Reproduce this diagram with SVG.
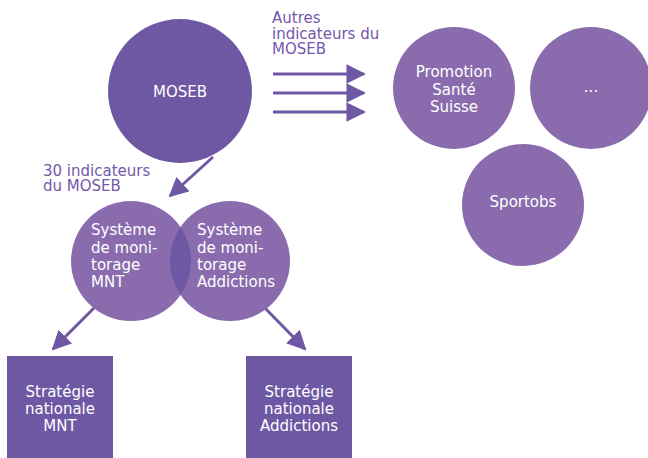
<svg xmlns="http://www.w3.org/2000/svg" width="648" height="458" viewBox="0 0 648 458">
<style>
.dark{fill:#6e58a4}
.light{fill:#8a6cae}
.wt{fill:#ffffff;font-family:"DejaVu Sans","Liberation Sans",Arial,sans-serif;font-size:15px}
.lbl{fill:#7458ac;font-family:"DejaVu Sans","Liberation Sans",Arial,sans-serif;font-size:15px}
.ln{stroke:#6e58a4;stroke-width:3;fill:none}
</style>
<defs>
<marker id="ah" viewBox="0 0 10 10" refX="9" refY="5" markerWidth="6.5" markerHeight="6.5" markerUnits="strokeWidth" orient="auto">
<path d="M0,0 L10,5 L0,10 Z" fill="#6e58a4"/>
</marker>
</defs>
<rect width="648" height="458" fill="#ffffff"/>
<g id="connectors">
<line class="ln" x1="273" y1="74" x2="364" y2="74" marker-end="url(#ah)"/>
<line class="ln" x1="273" y1="93" x2="364" y2="93" marker-end="url(#ah)"/>
<line class="ln" x1="273" y1="112" x2="364" y2="112" marker-end="url(#ah)"/>
<line class="ln" x1="213" y1="157" x2="170" y2="196" marker-end="url(#ah)"/>
<line class="ln" x1="95" y1="307" x2="53" y2="349" marker-end="url(#ah)"/>
<line class="ln" x1="263" y1="306" x2="305" y2="349" marker-end="url(#ah)"/>
</g>
<g id="label-autres">
<text class="lbl" x="272" y="23">Autres</text>
<text class="lbl" x="272" y="38.5">indicateurs du</text>
<text class="lbl" x="272" y="54">MOSEB</text>
</g>
<g id="label-30">
<text class="lbl" x="43" y="175.5">30 indicateurs</text>
<text class="lbl" x="43" y="191">du MOSEB</text>
</g>
<g id="moseb">
<circle class="dark" cx="180" cy="91" r="72"/>
<text class="wt" x="180" y="97" text-anchor="middle">MOSEB</text>
</g>
<g id="promotion">
<circle class="light" cx="454" cy="88" r="61"/>
<text class="wt" x="454" y="77" text-anchor="middle">Promotion</text>
<text class="wt" x="454" y="95" text-anchor="middle">Santé</text>
<text class="wt" x="454" y="112" text-anchor="middle">Suisse</text>
</g>
<g id="autres">
<circle class="light" cx="591" cy="88" r="61"/>
<text class="wt" x="591" y="92" text-anchor="middle">...</text>
</g>
<g id="sportobs">
<circle class="light" cx="523" cy="205" r="61"/>
<text class="wt" x="523" y="207" text-anchor="middle">Sportobs</text>
</g>
<g id="mnt">
<circle class="light" cx="131" cy="261" r="60"/>
</g>
<g id="addictions">
<circle class="light" cx="230" cy="261" r="60"/>
</g>
<g id="overlap">
<path class="dark" d="M180.5,227.1 A60,60 0 0 1 180.5,294.9 A60,60 0 0 1 180.5,227.1 Z"/>
</g>
<g id="mnt-text">
<text class="wt" x="91" y="235">Système</text>
<text class="wt" x="91" y="252.5">de moni-</text>
<text class="wt" x="91" y="270">torage</text>
<text class="wt" x="91" y="287">MNT</text>
</g>
<g id="addictions-text">
<text class="wt" x="197" y="235">Système</text>
<text class="wt" x="197" y="252.5">de moni-</text>
<text class="wt" x="197" y="270">torage</text>
<text class="wt" x="197" y="287">Addictions</text>
</g>
<g id="strat-mnt">
<rect class="dark" x="7" y="356" width="106" height="102"/>
<text class="wt" x="60" y="397" text-anchor="middle">Stratégie</text>
<text class="wt" x="60" y="414" text-anchor="middle">nationale</text>
<text class="wt" x="60" y="431" text-anchor="middle">MNT</text>
</g>
<g id="strat-add">
<rect class="dark" x="246" y="356" width="106" height="102"/>
<text class="wt" x="299" y="397" text-anchor="middle">Stratégie</text>
<text class="wt" x="299" y="414" text-anchor="middle">nationale</text>
<text class="wt" x="299" y="431" text-anchor="middle">Addictions</text>
</g>
</svg>
